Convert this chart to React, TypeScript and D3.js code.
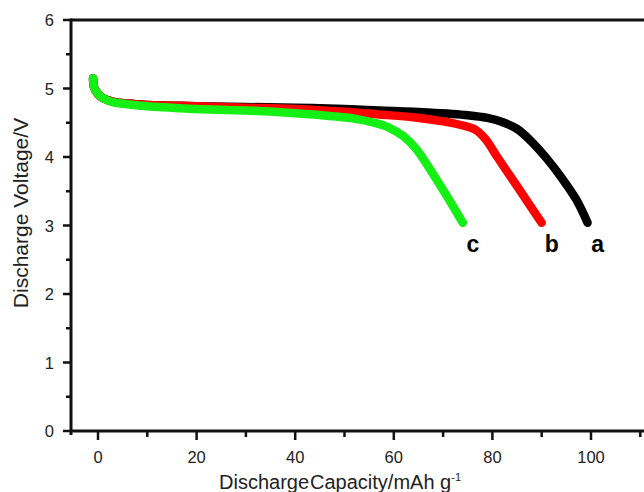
import React, { useEffect, useRef } from 'react';
import * as d3 from 'd3';

// discharge curves (capacity mAh/g, voltage V)
const capA = [-1, -0.8, 0, 1, 3, 6, 10, 15, 20, 30, 40, 50, 57, 67, 75, 79, 82, 85, 88, 91, 94, 97, 99.3];
const voltA = [5.15, 5.02, 4.92, 4.86, 4.81, 4.78, 4.76, 4.75, 4.74, 4.73, 4.72, 4.7, 4.68, 4.65, 4.61, 4.57, 4.51, 4.41, 4.22, 3.98, 3.7, 3.38, 3.04];

const capB = [-1, -0.8, 0, 1, 3, 6, 10, 15, 20, 30, 40, 50, 57, 64, 70, 74, 76.5, 78.5, 81, 84, 87, 90];
const voltB = [5.15, 5.02, 4.92, 4.86, 4.81, 4.78, 4.76, 4.75, 4.74, 4.72, 4.7, 4.66, 4.62, 4.58, 4.52, 4.46, 4.4, 4.27, 4.0, 3.68, 3.36, 3.04];

const capC = [-1, -0.8, 0, 1, 3, 6, 10, 15, 20, 30, 40, 47, 52, 56, 59, 62, 64.5, 67, 70.5, 74];
const voltC = [5.15, 5.02, 4.92, 4.86, 4.8, 4.77, 4.74, 4.72, 4.7, 4.68, 4.64, 4.6, 4.56, 4.5, 4.43, 4.3, 4.12, 3.86, 3.46, 3.04];

const seriesNames = ['a', 'b', 'c'];
const seriesColors = ['#000000', '#ff0000', '#14f014'];

const xMajor = [0, 20, 40, 60, 80, 100];
const xMinor = [10, 30, 50, 70, 90, 110];
const yMajor = [0, 1, 2, 3, 4, 5, 6];
const yMinor = [0.5, 1.5, 2.5, 3.5, 4.5, 5.5];

const App = () => {
  const ref = useRef<SVGSVGElement>(null);

  useEffect(() => {
    const svg = d3.select(ref.current);
    svg.selectAll('*').remove();

    const width = 644;
    const height = 492;
    const left = 71;
    const top = 20;
    const bottom = 431;

    const x = d3.scaleLinear().domain([0, 100]).range([98, 591]);
    const y = d3.scaleLinear().domain([0, 6]).range([bottom, top]);

    svg.attr('width', width).attr('height', height);
    const font = 'Arial, "Liberation Sans", sans-serif';

    const series = [
      { name: 'a', cap: capA, volt: voltA },
      { name: 'b', cap: capB, volt: voltB },
      { name: 'c', cap: capC, volt: voltC },
    ];

    const line = d3.line<[number, number]>()
      .x(d => x(d[0]))
      .y(d => y(d[1]))
      .curve(d3.curveCatmullRom.alpha(0.5));

    series.forEach((s, i) => {
      const pts: [number, number][] = s.cap.map((c, j) => [c, s.volt[j]]);
      svg.append('path')
        .attr('d', line(pts))
        .attr('fill', 'none')
        .attr('stroke', seriesColors[i])
        .attr('stroke-width', 8.5)
        .attr('stroke-linecap', 'round')
        .attr('stroke-linejoin', 'round');
      const last = pts[pts.length - 1];
      svg.append('text')
        .attr('x', x(last[0]) + 10)
        .attr('y', y(last[1]) + 29)
        .attr('text-anchor', 'middle')
        .attr('font-family', font)
        .attr('font-weight', 'bold')
        .attr('font-size', 23)
        .text(seriesNames[i]);
    });

    // frame lines
    svg.append('line')
      .attr('x1', left).attr('x2', width + 5)
      .attr('y1', top).attr('y2', top)
      .attr('stroke', '#111').attr('stroke-width', 3);
    svg.append('line')
      .attr('x1', left).attr('x2', width + 5)
      .attr('y1', bottom).attr('y2', bottom)
      .attr('stroke', '#111').attr('stroke-width', 3);
    svg.append('line')
      .attr('x1', left).attr('x2', left)
      .attr('y1', top - 1.5).attr('y2', bottom + 4)
      .attr('stroke', '#111').attr('stroke-width', 3);

    // x ticks
    xMajor.forEach(v => {
      svg.append('line')
        .attr('x1', x(v)).attr('x2', x(v))
        .attr('y1', bottom).attr('y2', bottom + 9)
        .attr('stroke', '#111').attr('stroke-width', 2.5);
      svg.append('text')
        .attr('x', x(v)).attr('y', bottom + 32)
        .attr('text-anchor', 'middle')
        .attr('font-family', font).attr('font-size', 16.5)
        .attr('fill', '#222')
        .text(v);
    });
    xMinor.forEach(v => {
      svg.append('line')
        .attr('x1', x(v)).attr('x2', x(v))
        .attr('y1', bottom).attr('y2', bottom + 6)
        .attr('stroke', '#111').attr('stroke-width', 2.5);
    });

    // y ticks
    yMajor.forEach(v => {
      svg.append('line')
        .attr('x1', left - 8).attr('x2', left)
        .attr('y1', y(v)).attr('y2', y(v))
        .attr('stroke', '#111').attr('stroke-width', 2.5);
      svg.append('text')
        .attr('x', left - 17).attr('y', y(v) + 6)
        .attr('text-anchor', 'end')
        .attr('font-family', font).attr('font-size', 16.5)
        .attr('fill', '#222')
        .text(v);
    });
    yMinor.forEach(v => {
      svg.append('line')
        .attr('x1', left - 5).attr('x2', left)
        .attr('y1', y(v)).attr('y2', y(v))
        .attr('stroke', '#111').attr('stroke-width', 2.5);
    });

    // axis titles
    svg.append('text')
      .attr('transform', `translate(28,213) rotate(-90)`)
      .attr('text-anchor', 'middle')
      .attr('font-family', font).attr('font-size', 21)
      .attr('fill', '#222')
      .text('Discharge Voltage/V');

    const xt = svg.append('text')
      .attr('x', 340).attr('y', 489)
      .attr('text-anchor', 'middle')
      .attr('font-family', font).attr('font-size', 20)
      .attr('fill', '#222');
    xt.append('tspan').text('Discharge');
    xt.append('tspan').attr('dx', 1).text('Capacity/mAh g');
    xt.append('tspan').attr('dy', -8).attr('font-size', 11).text('-1');
  }, []);

  return <svg ref={ref} style={{ position: 'absolute', left: 0, top: 0 }}></svg>;
};

export default App;
